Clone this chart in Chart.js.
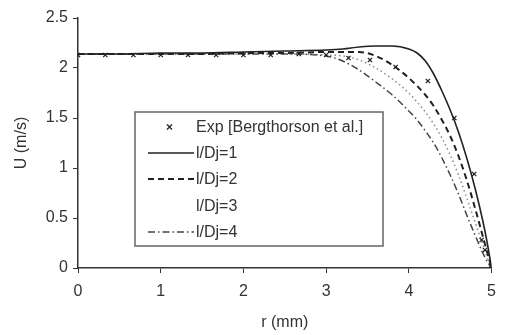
<!DOCTYPE html>
<html>
<head>
<meta charset="utf-8">
<script src="https://cdn.jsdelivr.net/npm/chart.js@4"></script>
<style>
  html, body { margin: 0; padding: 0; background: #fff; }
  #wrap { width: 505px; height: 335px; }
</style>
</head>
<body>
<div id="wrap"><canvas id="velChart" width="505" height="335"></canvas></div>
<script>
// radial positions (mm)
const rModel = [0, 0.5, 1, 1.5, 2, 2.5, 3, 3.2, 3.4, 3.6, 3.8, 4.0, 4.1, 4.2, 4.3, 4.4, 4.5, 4.6, 4.7, 4.8, 4.9, 4.95, 5.0];
// model velocity profiles U (m/s)
const uLD1 = [2.14, 2.14, 2.15, 2.15, 2.16, 2.17, 2.18, 2.19, 2.21, 2.22, 2.22, 2.19, 2.15, 2.07, 1.94, 1.77, 1.58, 1.36, 1.10, 0.80, 0.45, 0.24, 0];
const uLD2 = [2.14, 2.14, 2.14, 2.14, 2.15, 2.15, 2.16, 2.16, 2.16, 2.12, 2.03, 1.90, 1.82, 1.73, 1.62, 1.48, 1.32, 1.12, 0.88, 0.60, 0.30, 0.15, 0];
const uLD3 = [2.14, 2.14, 2.14, 2.14, 2.14, 2.14, 2.13, 2.12, 2.08, 2.00, 1.89, 1.75, 1.66, 1.56, 1.44, 1.30, 1.13, 0.93, 0.70, 0.46, 0.22, 0.10, 0];
const uLD4 = [2.14, 2.14, 2.14, 2.14, 2.14, 2.14, 2.12, 2.07, 1.98, 1.86, 1.73, 1.57, 1.48, 1.37, 1.25, 1.10, 0.93, 0.74, 0.53, 0.33, 0.14, 0.06, 0];
// experiment (Bergthorson et al.)
const rExp = [0, 0.33, 0.67, 1, 1.33, 1.67, 2, 2.33, 2.67, 3, 3.27, 3.53, 3.84, 4.23, 4.55, 4.79, 4.88, 4.92, 5.0];
const uExp = [2.13, 2.13, 2.13, 2.13, 2.13, 2.13, 2.13, 2.13, 2.14, 2.13, 2.10, 2.08, 2.01, 1.87, 1.50, 0.94, 0.28, 0.18, 0.0];

const xTicks = [0, 1, 2, 3, 4, 5];
const yTicks = [0, 0.5, 1, 1.5, 2, 2.5];

const pts = (xs, ys) => xs.map((x, i) => ({ x: x, y: ys[i] }));
const FONT = "'Liberation Sans', Arial, sans-serif";
const INK = '#333';

function lineSet(label, ys, color, width, dash) {
    return {
        label: label,
        data: pts(rModel, ys),
        showLine: true,
        borderColor: color,
        borderWidth: width,
        borderDash: dash,
        pointRadius: 0,
        fill: false,
        cubicInterpolationMode: 'monotone'
    };
}

// legend drawn inside the plot area
const boxLegend = {
    id: 'boxLegend',
    afterDraw(chart) {
        const ctx = chart.ctx;
        const x0 = 135, y0 = 112, w = 248, h = 134;
        const rows = [127, 153, 179, 206, 232];
        ctx.save();
        ctx.fillStyle = '#fff';
        ctx.fillRect(x0, y0, w, h);
        ctx.strokeStyle = '#666';
        ctx.lineWidth = 1.5;
        ctx.strokeRect(x0, y0, w, h);
        ctx.font = '16px ' + FONT;
        ctx.textBaseline = 'middle';
        ctx.fillStyle = INK;
        chart.data.datasets.forEach((ds, i) => {
            const y = rows[i];
            if (ds.showLine === false) {
                ctx.strokeStyle = '#222';
                ctx.lineWidth = 1.3;
                ctx.beginPath();
                ctx.moveTo(167, y - 2.5); ctx.lineTo(172, y + 2.5);
                ctx.moveTo(172, y - 2.5); ctx.lineTo(167, y + 2.5);
                ctx.stroke();
            } else if (!ds.hideSample) {
                ctx.strokeStyle = ds.borderColor;
                ctx.lineWidth = ds.borderWidth;
                ctx.setLineDash(ds.borderDash || []);
                ctx.beginPath();
                ctx.moveTo(148, y); ctx.lineTo(194, y);
                ctx.stroke();
                ctx.setLineDash([]);
            }
            ctx.fillText(ds.label, 196, y + 1);
        });
        ctx.restore();
    }
};

const ctx = document.getElementById('velChart').getContext('2d');
const d3 = lineSet('l/Dj=3', uLD3, '#8a8a8a', 1.5, [1.5, 3]);
d3.hideSample = true;

const velChart = new Chart(ctx, {
    type: 'scatter',
    data: {
        datasets: [
            {
                label: 'Exp [Bergthorson et al.]',
                data: pts(rExp, uExp),
                showLine: false,
                pointStyle: 'crossRot',
                pointRadius: 3,
                pointBorderColor: '#222',
                pointBorderWidth: 1.3,
                order: 0
            },
            lineSet('l/Dj=1', uLD1, '#222', 1.6, []),
            lineSet('l/Dj=2', uLD2, '#222', 2, [6, 4]),
            d3,
            lineSet('l/Dj=4', uLD4, '#444', 1.5, [7, 3, 1.5, 3])
        ]
    },
    options: {
        responsive: false,
        animation: false,
        layout: { padding: { top: 18, right: 8, left: 0, bottom: 0 } },
        plugins: {
            legend: { display: false },
            tooltip: { enabled: false }
        },
        scales: {
            x: {
                type: 'linear',
                min: 0, max: 5,
                afterBuildTicks: (s) => { s.ticks = xTicks.map(v => ({ value: v })); },
                afterFit: (s) => { s.height = 67; },
                ticks: { color: INK, font: { family: FONT, size: 16 }, padding: 9, callback: (v) => String(v) },
                grid: { drawOnChartArea: false, drawTicks: true, tickLength: 5, color: INK, lineWidth: 1 },
                border: { display: true, color: INK, width: 1.5 },
                title: { display: true, text: 'r (mm)', color: INK, font: { family: FONT, size: 16 }, padding: { top: 0, bottom: 3 } }
            },
            y: {
                type: 'linear',
                min: 0, max: 2.5,
                afterBuildTicks: (s) => { s.ticks = yTicks.map(v => ({ value: v })); },
                afterFit: (s) => { s.width = 78; },
                ticks: { color: INK, font: { family: FONT, size: 16 }, padding: 5, callback: (v) => String(v) },
                grid: { drawOnChartArea: false, drawTicks: true, tickLength: 5, color: INK, lineWidth: 1 },
                border: { display: true, color: INK, width: 1.5 },
                title: { display: true, text: 'U (m/s)', color: INK, font: { family: FONT, size: 16 }, padding: { top: 12, bottom: 0 } }
            }
        }
    },
    plugins: [boxLegend]
});
</script>
</body>
</html>
